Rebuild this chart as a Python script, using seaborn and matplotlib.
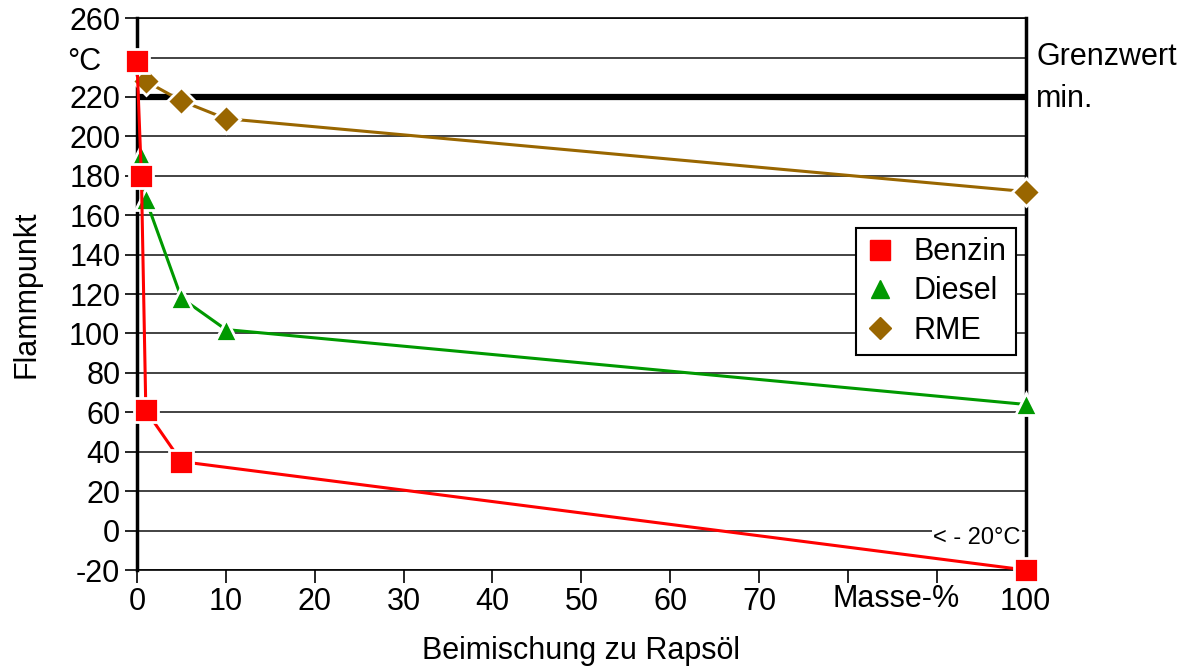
import numpy as np
import pandas as pd
import seaborn as sns
import matplotlib.pyplot as plt
from matplotlib.lines import Line2D

# values
benzin_x = [0, 0.5, 1, 5, 100]
benzin_y = [238, 180, 61, 35, -20]
diesel_x = [0.4, 1, 5, 10, 100]
diesel_y = [190, 168, 118, 102, 64]
rme_x = [1, 5, 10, 100]
rme_y = [228, 218, 209, 172]
grenzwert = 220

series = ["Benzin", "Diesel", "RME"]
colors = {"Benzin": "#FF0000", "Diesel": "#009900", "RME": "#996600"}
markers = {"Benzin": "s", "Diesel": "^", "RME": "D"}
sizes = {"Benzin": 17, "Diesel": 16, "RME": 14}

df = pd.concat([
    pd.DataFrame({"x": benzin_x, "y": benzin_y, "Stoff": "Benzin"}),
    pd.DataFrame({"x": diesel_x, "y": diesel_y, "Stoff": "Diesel"}),
    pd.DataFrame({"x": rme_x, "y": rme_y, "Stoff": "RME"}),
])

sns.set_style("white")
plt.rcParams['font.family'] = ['Liberation Sans', 'DejaVu Sans']
plt.rcParams['text.color'] = 'black'
plt.rcParams['axes.labelcolor'] = 'black'
plt.rcParams['xtick.color'] = 'black'
plt.rcParams['ytick.color'] = 'black'

fig = plt.figure(figsize=(11.93, 6.71), dpi=100)
ax = fig.add_axes([0.1148, 0.1505, 0.745, 0.8225])

for y in range(-20, 261, 20):
    ax.axhline(y, color="#222222", lw=1.2, zorder=1)
ax.axhline(grenzwert, color="black", lw=4.5, zorder=2)

# later series drawn first so Benzin stays on top; white marker edges give the gaps
for name in series[::-1]:
    sub = df[df["Stoff"] == name]
    sns.lineplot(data=sub, x="x", y="y", ax=ax, color=colors[name], lw=2.2,
                 marker=markers[name], markersize=sizes[name],
                 markeredgecolor="white", markeredgewidth=2,
                 legend=False, zorder=3, clip_on=False)

ax.set_xlim(0, 100)
ax.set_ylim(-20, 260)
ax.set_xticks(range(0, 101, 10))
ax.set_xticklabels(["0", "10", "20", "30", "40", "50", "60", "70", "", "", "100"])
ax.set_yticks(range(-20, 261, 20))
ylabels = [str(v) for v in range(-20, 261, 20)]
ylabels[ylabels.index("240")] = ""
ax.set_yticklabels(ylabels)
ax.tick_params(axis="both", labelsize=22, length=9, width=1.2,
               direction="out", bottom=True, left=True, pad=3)

for side in ["left", "right"]:
    ax.spines[side].set_linewidth(2.5)
for side in ["top", "bottom"]:
    ax.spines[side].set_linewidth(1.2)
for s in ax.spines.values():
    s.set_color("black")

ax.set_xlabel("Beimischung zu Rapsöl", fontsize=22, labelpad=14)
ax.set_ylabel("Flammpunkt", fontsize=22, labelpad=20)

ax.text(-0.0785, 237.5, "°C", transform=ax.get_yaxis_transform(), fontsize=22,
        ha="left", va="center")
ax.text(85.4, -34.5, "Masse-%", fontsize=22, ha="center", va="center")
ax.text(1.012, 240.5, "Grenzwert", transform=ax.get_yaxis_transform(),
        fontsize=22, ha="left", va="center")
ax.text(1.012, 219, "min.", transform=ax.get_yaxis_transform(),
        fontsize=22, ha="left", va="center")
ax.text(94.5, -4, "< - 20°C", fontsize=17, ha="center", va="center", zorder=2,
        bbox=dict(facecolor="white", edgecolor="none", pad=1))

handles = [Line2D([], [], linestyle="none", marker=markers[n], color=colors[n],
                  markersize=sizes[n] - 3) for n in series]
leg = ax.legend(handles, series, loc="upper right", bbox_to_anchor=(0.9888, 0.6196),
                borderaxespad=0, fontsize=22, frameon=True, fancybox=False,
                framealpha=1, edgecolor="black", handlelength=1.0,
                handletextpad=0.6, borderpad=0.3, labelspacing=0.3)
leg.get_frame().set_linewidth(1.5)
leg.set_zorder(5)

fig.savefig("out.png", dpi=100)
